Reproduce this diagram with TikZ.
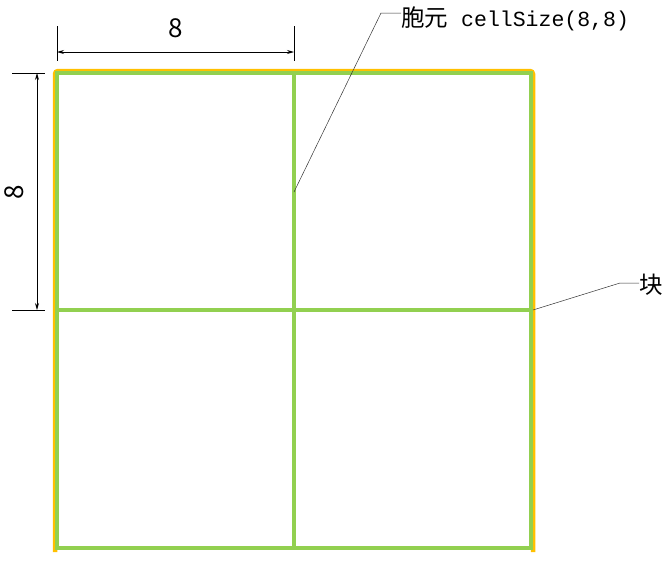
\documentclass[tikz,border=0pt]{standalone}
\usepackage{fontspec}
\usepackage{tikz}
\usetikzlibrary{arrows.meta}
\setmainfont{Noto Sans CJK SC}
\newfontfamily\cjk{Noto Sans CJK SC}
\newfontfamily\codefont{Liberation Mono}
\definecolor{blkgreen}{RGB}{146, 208, 80}
\definecolor{blkorange}{RGB}{255, 192, 0}

\begin{document}
\begin{tikzpicture}[x=1pt, y=-1pt,
  gridline/.style={line width=3.2pt, blkgreen},
  dimline/.style={line width=0.8pt, {Stealth[length=7pt,width=4pt]}-{Stealth[length=7pt,width=4pt]}},
  extline/.style={line width=0.6pt},
  leader/.style={line width=0.5pt, black!80},
  lbl/.style={font=\cjk\fontsize{23.5}{26}\selectfont, inner sep=0pt},
  dimlbl/.style={font=\cjk\fontsize{26}{28}\selectfont, inner sep=0pt}]
\useasboundingbox (0,0) rectangle (669,560);

% Block outline
\draw[blkorange, line width=4.5pt, rounded corners=3pt] (55,552) -- (55,71) -- (533,71) -- (533,552);

% Cells
\draw[gridline] (57,73) rectangle (531,548);
\draw[gridline] (294,73) -- (294,548);
\draw[gridline] (57,310) -- (531,310);

% Top dimension
\coordinate (topA) at (57,52);
\coordinate (topB) at (294,52);
\draw[extline] (57,26) -- (57,61);
\draw[extline] (294,26) -- (294,61);
\draw[dimline] (topA) -- (topB);
\node[dimlbl] (toplabel) at (176,28) {8};

% Left dimension
\coordinate (leftA) at (37,73);
\coordinate (leftB) at (37,310);
\draw[extline] (12,73) -- (45,73);
\draw[extline] (12,310) -- (45,310);
\draw[dimline] (leftA) -- (leftB);
\node[dimlbl, rotate=90] (leftlabel) at (14,192) {8};

% Cell callout
\coordinate (cellpt) at (294,192);
\coordinate (cellbend) at (381,13);
\node[lbl, anchor=west] (celltext) at (401,19) {胞元\hspace{13pt}{\codefont\fontsize{21.5}{24}\selectfont cellSize(8,8)}};
\draw[leader] (cellpt) -- (cellbend) -- (cellbend -| celltext.west);

% Block callout
\coordinate (blkpt) at (533,310);
\coordinate (blkbend) at (620,283);
\node[lbl, anchor=west] (blktext) at (639,285) {块};
\draw[leader] (blkpt) -- (blkbend) -- (blkbend -| blktext.west);
\end{tikzpicture}
\end{document}
